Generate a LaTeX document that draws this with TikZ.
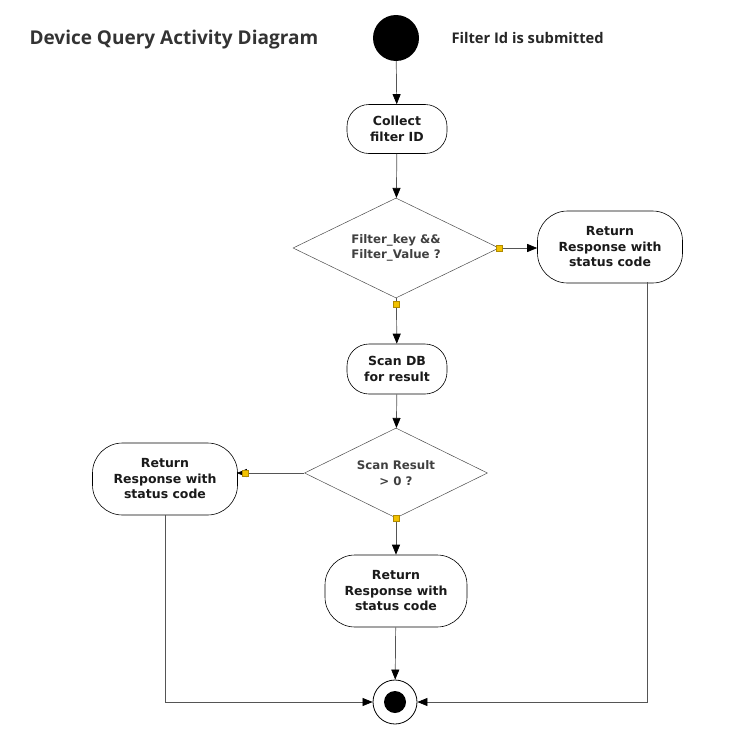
\documentclass[tikz,border=0pt]{standalone}
\usepackage{fontspec}
\setmainfont{Open Sans}
\newfontfamily\boxfont{DejaVu Sans}
\usetikzlibrary{shapes.geometric,arrows.meta}
\definecolor{txt}{HTML}{1A1A1A}
\definecolor{dtxt}{HTML}{404040}
\definecolor{ln}{HTML}{555555}
\definecolor{mk}{HTML}{F2C200}
\definecolor{mkd}{HTML}{B08A00}
\begin{document}
\begin{tikzpicture}[x=1pt,y=-1pt,
  every node/.style={font=\boxfont\bfseries\fontsize{12.5}{15.5}\selectfont, text=txt, align=center},
  act/.style={draw=black, line width=0.6pt, fill=white, rounded corners=#1, inner sep=0pt},
  dec/.style={draw=black!70, line width=0.5pt, diamond, shape aspect=2, inner sep=0pt, text=dtxt, font=\boxfont\bfseries\fontsize{11.8}{15.5}\selectfont},
  flow/.style={draw=ln, line width=0.7pt, -{Triangle[length=10pt,width=8pt,color=black]}},
  ymark/.style={rectangle, fill=mk, draw=mkd, line width=0.3pt, minimum size=6pt, inner sep=0pt},
]
\useasboundingbox (0,0) rectangle (730,728);
\node[font=\bfseries\fontsize{19}{22}\selectfont, text=black!80, anchor=west] (title) at (26,40) {Device Query Activity Diagram};
\node[circle, fill=black, minimum size=46pt, inner sep=0pt] (start) at (396,38) {};
\node[anchor=west, font=\bfseries\fontsize{14.7}{17}\selectfont, text=black!85] (lbl) at (448,38) {Filter Id is submitted};
\node[act=22pt, minimum width=100pt, minimum height=49pt] (collect) at (397,129) {Collect\\filter ID};
\node[dec, minimum width=206pt, minimum height=100pt] (d1) at (396,248) {Filter\_key \&\&\\Filter\_Value ?};
\node[act=30pt, minimum width=145pt, minimum height=72pt] (rbox) at (610,247) {Return\\Response with\\status code};
\node[act=22pt, minimum width=100pt, minimum height=50pt] (scan) at (397,369) {Scan DB\\for result};
\node[dec, minimum width=183pt, minimum height=90pt] (d2) at (396,473) {Scan Result\\> 0 ?};
\node[act=30pt, minimum width=145pt, minimum height=72pt] (lbox) at (165,479) {Return\\Response with\\status code};
\node[act=30pt, minimum width=142pt, minimum height=72pt] (bbox) at (396,591) {Return\\Response with\\status code};
\node[circle, draw=black, line width=0.8pt, fill=white, minimum size=44pt, inner sep=0pt] (final) at (395,702) {};
\node[circle, fill=black, minimum size=22pt, inner sep=0pt] (finalin) at (final) {};
\draw[flow] (start) -- (collect);
\draw[flow] (collect) -- (d1);
\draw[flow] (d1.east) -- (d1.east -| rbox.west);
\draw[flow] (d1) -- (scan);
\draw[flow] (scan) -- (d2);
\draw[flow] (d2.west) -- ([xshift=-1pt]d2.west -| lbox.east);
\draw[flow] (d2) -- (bbox);
\draw[flow] (bbox) -- (final);
\draw[flow] (lbox.south) |- (final.west);
\draw[flow] ([shift={(37pt,1pt)}]rbox.south) |- (final.east);
\node[ymark] (m1) at (d1.east) {};
\node[ymark] (m2) at ([yshift=-6pt]d1.south) {};
\node[ymark] (m3) at ([xshift=7pt]d2.west -| lbox.east) {};
\node[ymark] (m4) at (d2.south) {};
\end{tikzpicture}
\end{document}
